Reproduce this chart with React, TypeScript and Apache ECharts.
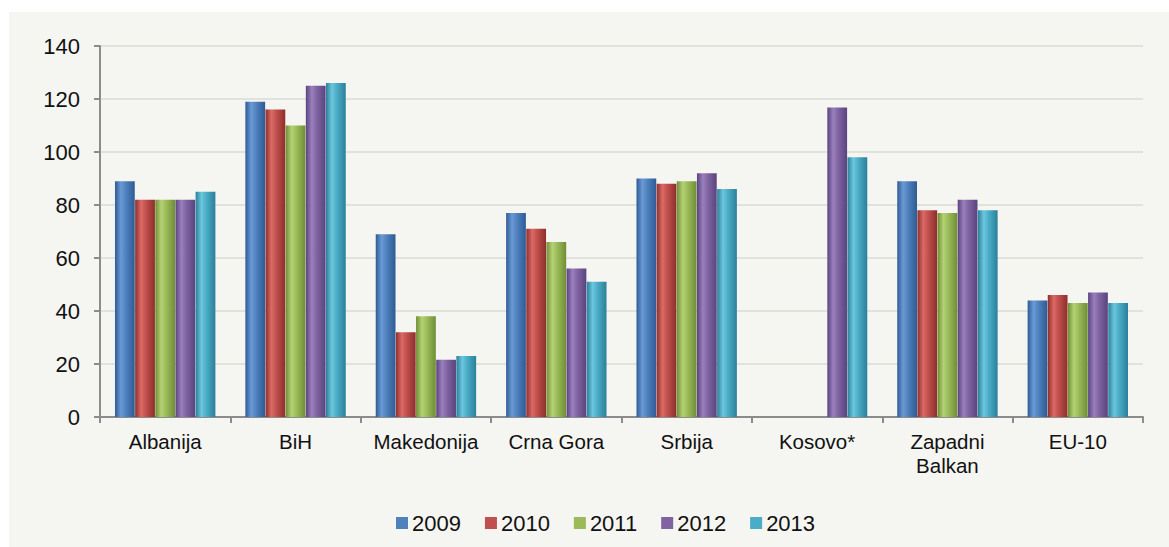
import React, { useEffect, useRef } from "react";
import * as echarts from "echarts";

const categories = ["Albanija", "BiH", "Makedonija", "Crna Gora", "Srbija", "Kosovo*", "Zapadni\nBalkan", "EU-10"];
const years = ["2009", "2010", "2011", "2012", "2013"];
const v2009 = [89, 119, 69, 77, 90, null, 89, 44];
const v2010 = [82, 116, 32, 71, 88, null, 78, 46];
const v2011 = [82, 110, 38, 66, 89, null, 77, 43];
const v2012 = [82, 125, 21.6, 56, 92, 116.8, 82, 47];
const v2013 = [85, 126, 23, 51, 86, 98, 78, 43];
const seriesValues = [v2009, v2010, v2011, v2012, v2013];
const yTicks = { min: 0, max: 140, interval: 20 };

const colors = ["#4f81bd", "#c0504d", "#9bbb59", "#8064a2", "#4bacc6"];
const darks = ["#2e5b94", "#8e2e2b", "#6f8d34", "#5a4380", "#2a8099"];
const lights = ["#6a9ad6", "#dc6a66", "#b4d274", "#9a80bd", "#6cc6de"];

export default function App() {
  const ref = useRef<HTMLDivElement>(null);
  useEffect(() => {
    if (!ref.current) return;
    const chart = echarts.init(ref.current, null, { renderer: "svg" });
    const font = "'Liberation Sans', Arial, sans-serif";
    chart.setOption({
      animation: false,
      backgroundColor: "#f5f5f1",
      textStyle: { fontFamily: font },
      grid: { left: 91, top: 34, right: 26, bottom: 130, containLabel: false },
      legend: {
        left: 382,
        top: 495,
        itemWidth: 12,
        itemHeight: 12,
        itemGap: 24,
        icon: "rect",
        textStyle: { fontSize: 22, color: "#111", fontFamily: font, padding: [0, 0, 0, -1] },
        data: years.map((y, i) => ({ name: y, itemStyle: { color: colors[i] } })),
      },
      xAxis: {
        type: "category",
        data: categories,
        axisLine: { lineStyle: { color: "#8c8c8c", width: 2 } },
        axisTick: { show: true, length: 6, lineStyle: { color: "#8c8c8c", width: 2 } },
        axisLabel: { interval: 0, fontSize: 20.5, color: "#111", margin: 12, lineHeight: 24, fontFamily: font },
      },
      yAxis: {
        type: "value",
        min: yTicks.min,
        max: yTicks.max,
        interval: yTicks.interval,
        axisLine: { show: true, lineStyle: { color: "#8c8c8c", width: 2 } },
        axisTick: { show: true, length: 6, lineStyle: { color: "#8c8c8c", width: 2 } },
        axisLabel: { fontSize: 22, color: "#111", margin: 20, fontFamily: font },
        splitLine: { show: true, lineStyle: { color: "#e2e2dc", width: 2 } },
      },
      series: years.map((y, i) => ({
        name: y,
        type: "bar",
        data: seriesValues[i].map((v) => (v === null ? "-" : v)),
        barCategoryGap: "23%",
        barGap: "2%",
        itemStyle: {
          color: new echarts.graphic.LinearGradient(0, 0, 1, 0, [
            { offset: 0, color: darks[i] },
            { offset: 0.3, color: lights[i] },
            { offset: 0.55, color: colors[i] },
            { offset: 1, color: darks[i] },
          ]),
        },
      })),
    });
    return () => chart.dispose();
  }, []);
  return (
    <div
      ref={ref}
      style={{ position: "absolute", left: 9, top: 12, width: 1160, height: 535 }}
    />
  );
}
